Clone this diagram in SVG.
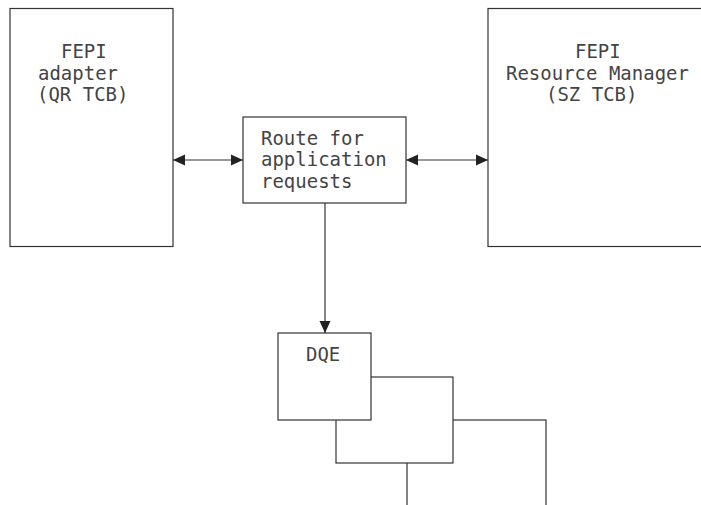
<svg xmlns="http://www.w3.org/2000/svg" width="701" height="505" viewBox="0 0 701 505">
<defs>
<style>
.box{fill:#fff;stroke:#333;stroke-width:1.2}
.lbl{font-family:"DejaVu Sans Mono","Liberation Mono",monospace;font-size:20px;fill:#444}
.con{stroke:#333;stroke-width:1.2;fill:none}
</style>
<marker id="ah" markerUnits="userSpaceOnUse" markerWidth="12" markerHeight="12" viewBox="0 0 12 12" refX="12" refY="6" orient="auto-start-reverse">
<path d="M0,0.5 L12,6 L0,11.5 z" fill="#222"/>
</marker>
</defs>
<rect width="701" height="505" fill="#fff"/>
<g id="fepi-adapter">
<rect class="box" x="10" y="8.5" width="163" height="238"/>
<text class="lbl" transform="translate(61,58) scale(0.95,1)">FEPI</text>
<text class="lbl" transform="translate(38,79.5) scale(0.95,1)">adapter</text>
<text class="lbl" transform="translate(37,101) scale(0.95,1)">(QR TCB)</text>
</g>
<g id="fepi-rm">
<rect class="box" x="488" y="8.5" width="240" height="238"/>
<text class="lbl" transform="translate(575,58) scale(0.95,1)">FEPI</text>
<text class="lbl" transform="translate(506,79.5) scale(0.95,1)">Resource Manager</text>
<text class="lbl" transform="translate(546,101) scale(0.95,1)">(SZ TCB)</text>
</g>
<g id="route">
<rect class="box" x="243" y="117" width="163" height="86"/>
<text class="lbl" transform="translate(261,144.5) scale(0.95,1)">Route for</text>
<text class="lbl" transform="translate(261,166) scale(0.95,1)">application</text>
<text class="lbl" transform="translate(261,187.5) scale(0.95,1)">requests</text>
</g>
<g id="dqe3">
<rect class="box" x="407" y="420" width="139" height="120"/>
</g>
<g id="dqe2">
<rect class="box" x="336" y="377" width="117" height="86"/>
</g>
<g id="dqe">
<rect class="box" x="278" y="333" width="93" height="87"/>
<text class="lbl" transform="translate(306,361) scale(0.95,1)">DQE</text>
</g>
<g id="connectors">
<line class="con" x1="173" y1="160" x2="243" y2="160" marker-start="url(#ah)" marker-end="url(#ah)"/>
<line class="con" x1="406" y1="160" x2="488" y2="160" marker-start="url(#ah)" marker-end="url(#ah)"/>
<line class="con" x1="325" y1="203" x2="325" y2="333" marker-end="url(#ah)"/>
</g>
</svg>
